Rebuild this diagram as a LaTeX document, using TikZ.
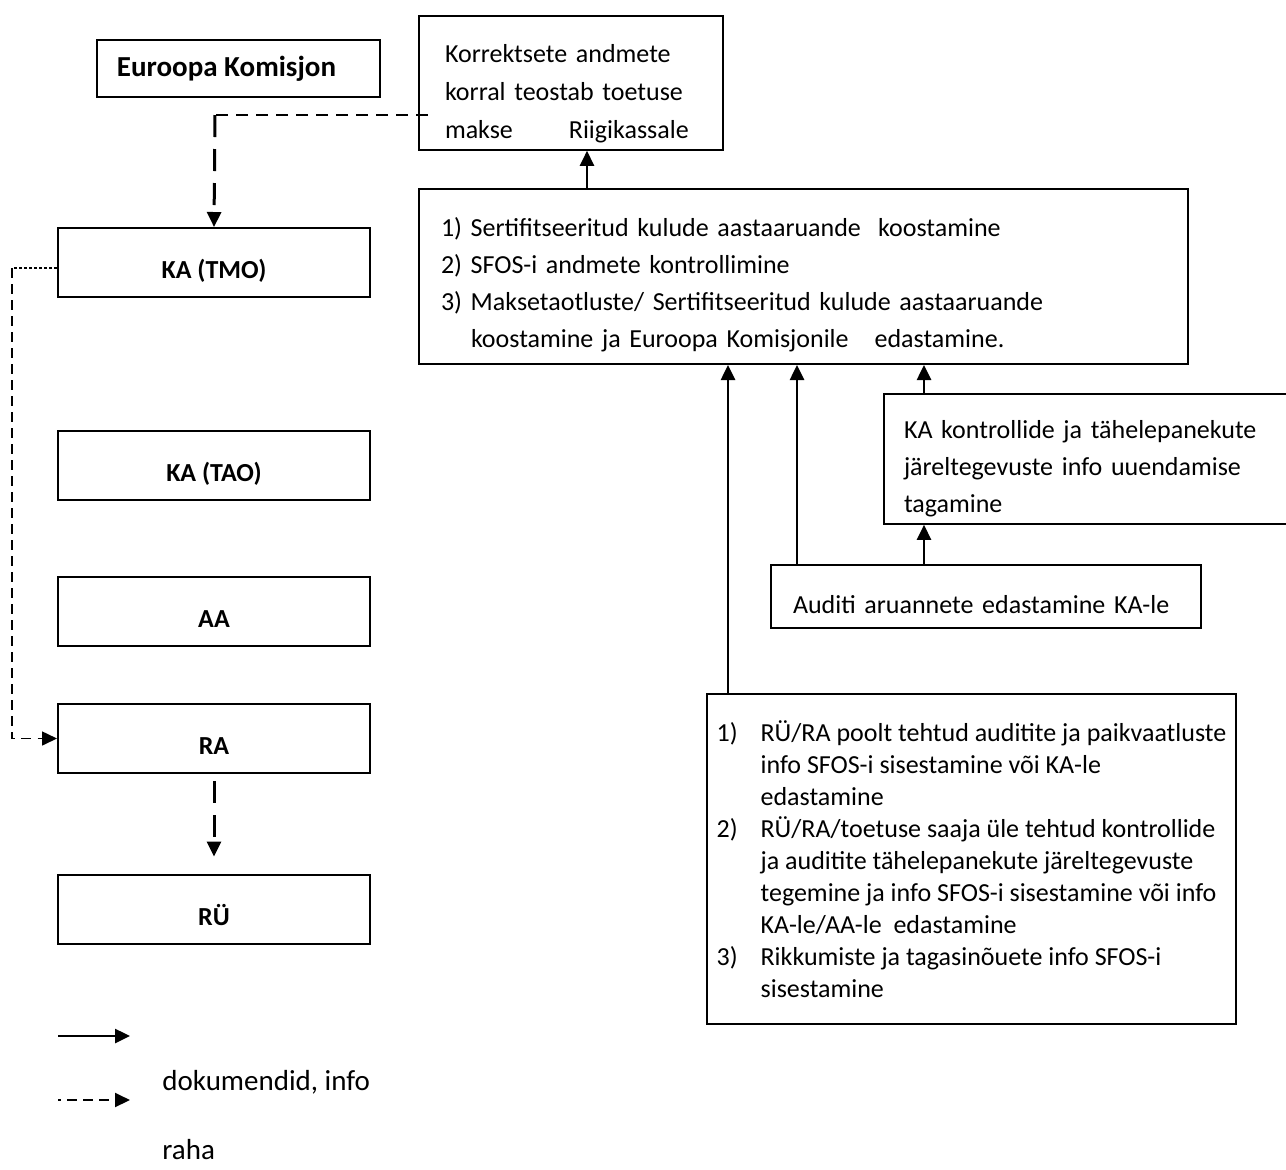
\documentclass[tikz,border=0pt]{standalone}
\usepackage{fontspec}
\setmainfont{Carlito}
\usetikzlibrary{arrows.meta}
\tikzset{
  orgbox/.style={
    draw,rectangle,line width=1pt,minimum width=156pt,minimum height=34.5pt,
    text height=16pt,text depth=0pt,
    font=\bfseries\fontsize{13}{15}\selectfont,
  },
}
\tikzset{
  taskbox/.style={
    draw,rectangle,line width=1pt,anchor=north west,align=left,
    font=\fontsize{13}{18.5}\selectfont,
  },
  docarrow/.style={line width=1.3pt,-{Triangle[width=7pt,length=7.5pt]}},
  moneyarrow/.style={line width=1.5pt,dash pattern=on 11pt off 6pt,-{Triangle[width=7pt,length=7.5pt]}},
}

\begin{document}
\begin{tikzpicture}[x=0.5pt,y=-0.5pt]
			\useasboundingbox (0,0) rectangle (1286,1169);
			% left column
			\node[orgbox,minimum width=141.5pt,minimum height=28.5pt,text height=10pt,text depth=2pt,font=\bfseries\fontsize{14.5}{16}\selectfont] (ek) at (238.5,68.5) {Euroopa Komisjon\hspace*{12pt}};
			\node[orgbox] (katmo) at (214,262.5) {KA (TMO)};
			\node[orgbox] (katao) at (214,465) {KA (TAO)};
			\node[orgbox] (aa) at (214,611) {AA};
			\node[orgbox] (ra) at (214,738.5) {RA};
			\node[orgbox] (ru) at (214,909) {RÜ};
			% task boxes
			\node[taskbox,inner xsep=13pt,text width=126pt,minimum height=66pt,font=\fontsize{13}{19}\selectfont] (pay) at (418,15)
				{\rule{0pt}{20pt}Korrektsete andmete\\korral teostab toetuse\\makse\hspace{28pt}Riigikassale};
			\node[taskbox,inner xsep=11pt,text width=362.5pt,minimum height=87.5pt] (cert) at (418,188)
				{\rule{0pt}{18pt}1) Sertifitseeritud kulude aastaaruande\ \ koostamine\\
				 2) SFOS-i andmete kontrollimine\\
				 3) Maksetaotluste/ Sertifitseeritud kulude aastaaruande\\
				 \hspace*{15pt}koostamine ja Euroopa Komisjonile\ \ \ edastamine.};
			\node[taskbox,inner xsep=10pt,text width=184pt,minimum height=64pt] (kactl) at (883,393)
				{\rule{0pt}{19pt}KA kontrollide ja tähelepanekute\\järeltegevuste info uuendamise\\tagamine};
			\node[taskbox,inner xsep=11pt,text width=193pt,minimum height=31.5pt] (audit) at (770,564)
				{\rule{0pt}{17pt}Auditi aruannete edastamine KA-le};
			\node[taskbox,minimum width=264.5pt,minimum height=165pt,font=\fontsize{13}{16}\selectfont] (ruinfo) at (706,693)
				{\makebox[22pt][l]{1)}RÜ/RA poolt tehtud auditite ja paikvaatluste\\
				 \hspace*{22pt}info SFOS-i sisestamine või KA-le\\
				 \hspace*{22pt}edastamine\\
				 \makebox[22pt][l]{2)}RÜ/RA/toetuse saaja üle tehtud kontrollide\\
				 \hspace*{22pt}ja auditite tähelepanekute järeltegevuste\\
				 \hspace*{22pt}tegemine ja info SFOS-i sisestamine või info\\
				 \hspace*{22pt}KA-le/AA-le\ \ edastamine\\
				 \makebox[22pt][l]{3)}Rikkumiste ja tagasinõuete info SFOS-i\\
				 \hspace*{22pt}sisestamine};
			% documents, info
			\draw [docarrow] (cert.north -| 587,0) -- (pay.south -| 587,0);
			\draw [docarrow] (ruinfo.north -| 728,0) -- (cert.south -| 728,0);
			\draw [docarrow] (audit.north -| 797,0) -- (cert.south -| 797,0);
			\draw [docarrow] (kactl.north -| 924,0) -- (cert.south -| 924,0);
			\draw [docarrow] (audit.north -| 924,0) -- (kactl.south -| 924,0);
			% money
			\coordinate (paybend) at (215,115);
			\draw [line width=1pt,dash pattern=on 6pt off 4pt] ([xshift=5pt]pay.west |- paybend) -- (paybend);
			\draw [moneyarrow] (paybend) -- (katmo.north);
			\coordinate (tmobend) at (12,268);
			\draw [line width=0.6pt,dash pattern=on 1.5pt off 1pt] (katmo.west |- tmobend) -- (tmobend);
			\draw [line width=0.8pt,dash pattern=on 5pt off 3pt,-{Triangle[width=7pt,length=7.5pt]}]
				(tmobend) -- (ra.west -| tmobend) -- (ra.west);
			\draw [moneyarrow] ([yshift=-3.5pt]ra.south) -- ([yshift=8.5pt]ru.north);
			% legend
			\coordinate (legdoc) at (58,1036);
			\coordinate (legmoney) at (58,1100);
			\draw [docarrow] (legdoc) -- ++(72,0);
			\draw [line width=1pt,dash pattern=on 1.5pt off 3pt on 5pt off 3pt on 5pt off 3pt on 5pt off 10pt,-{Triangle[width=7pt,length=7.5pt]}] (legmoney) -- ++(72,0);
			\node[anchor=west,inner sep=0pt,font=\fontsize{14.5}{16}\selectfont] (legdoctext) at (162,1082) {dokumendid, info};
			\node[anchor=west,inner sep=0pt,font=\fontsize{14.5}{16}\selectfont] (legmoneytext) at (162,1150) {raha};
		\end{tikzpicture}
\end{document}
